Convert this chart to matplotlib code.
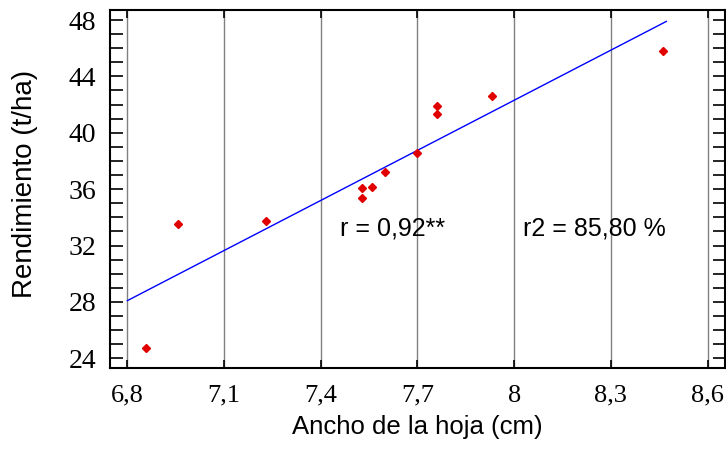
import matplotlib
matplotlib.use('Agg')
import matplotlib.pyplot as plt
from matplotlib.ticker import MultipleLocator, FuncFormatter

# datos
ancho = [6.858, 6.958, 7.230, 7.529, 7.529, 7.560, 7.600, 7.700, 7.759, 7.759, 7.931, 8.461]
rend = [24.75, 33.52, 33.74, 36.10, 35.35, 36.15, 37.19, 38.56, 41.92, 41.33, 42.60, 45.79]

# recta de regresion (extremos)
recta_x = [6.80, 8.472]
recta_y = [28.09, 47.90]

xticks = [6.8, 7.1, 7.4, 7.7, 8.0, 8.3, 8.6]
yticks = [24, 28, 32, 36, 40, 44, 48]

fig = plt.figure(figsize=(7.26, 4.59), dpi=100)
ax = fig.add_axes([0.1515, 0.1983, 0.8471, 0.7799])

for xv in xticks:
	ax.axvline(xv, color='#808080', lw=1, zorder=0)

ax.plot(recta_x, recta_y, '-', color='#0000ff', lw=1)
ax.plot(ancho, rend, 'D', color='#e00000', ms=3.8, mec='#e00000')

ax.set_xlim(6.746, 8.654)
ax.set_ylim(23.31, 48.71)
ax.set_xticks(xticks)
ax.set_yticks(yticks)
ax.yaxis.set_minor_locator(MultipleLocator(1))

def coma(v, pos):
	s = ('%.1f' % v).rstrip('0').rstrip('.')
	return s.replace('.', ',')

ax.xaxis.set_major_formatter(FuncFormatter(coma))
ax.yaxis.set_major_formatter(FuncFormatter(lambda v, p: '%d' % v))

ax.tick_params(axis='both', which='both', direction='in', top=True, right=True, width=1.2, color='black')
ax.tick_params(axis='x', which='major', length=6, pad=12)
ax.tick_params(axis='y', which='major', length=9, pad=10)
ax.tick_params(axis='y', which='minor', length=9)
for lab in ax.get_xticklabels():
	lab.set_family('Liberation Serif')
	lab.set_fontsize(19)
for lab in ax.get_yticklabels():
	lab.set_family('Liberation Serif')
	lab.set_fontsize(20)

for sp in ax.spines.values():
	sp.set_linewidth(1.5)

ax.set_xlabel('Ancho de la hoja (cm)', family='Liberation Sans', fontsize=18.5, labelpad=6)
ax.set_ylabel('Rendimiento (t/ha)', family='Liberation Sans', fontsize=20)
ax.yaxis.set_label_coords(-0.117, 0.515)

ax.text(7.46, 33.24, 'r = 0,92**', family='Liberation Sans', fontsize=18, va='center', ha='left')
ax.text(8.027, 33.24, 'r2 = 85,80 %', family='Liberation Sans', fontsize=18, va='center', ha='left')

fig.savefig('out.png', dpi=100)
